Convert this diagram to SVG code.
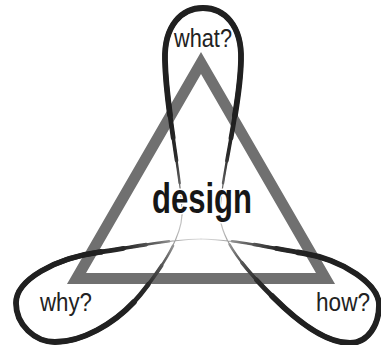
<svg xmlns="http://www.w3.org/2000/svg" width="381" height="345" viewBox="0 0 381 345">
  <defs>
    <radialGradient id="ribbon" gradientUnits="userSpaceOnUse" cx="201" cy="228" r="110">
      <stop offset="0" stop-color="#f2f2f2"/>
      <stop offset="0.18" stop-color="#c4c4c4"/>
      <stop offset="0.42" stop-color="#666666"/>
      <stop offset="0.7" stop-color="#2a2a2a"/>
      <stop offset="1" stop-color="#202020"/>
    </radialGradient>
    <path id="petal-top" pathLength="100" d="M182,215 C183,185 166,110 165,60 C164,25 182,8 203,8 C224,8 242,25 241,60 C240,110 219,185 220,215"/>
    <path id="petal-how" pathLength="100" d="M220,215 C221,242 248,272 273,297 C298,322 325,343 350,343 C368,343 379,325 379,305 C379,285 345,260 302,253 C272,248 232,239 201,239"/>
    <path id="petal-why" pathLength="100" d="M201,239 C170,239 130,248 100,252 C55,258 16,280 16,303 C16,325 35,342 55,342 C85,342 120,320 140,295 C160,270 181,240 182,215"/>
  </defs>
  <style>
    .tri { fill: none; stroke: #707070; stroke-width: 11; stroke-linejoin: miter; stroke-miterlimit: 10; }
    .rb { fill: none; stroke: url(#ribbon); stroke-linecap: round; stroke-linejoin: round; }
    .w1 { stroke-width: 1.2; }
    .w2 { stroke-width: 2.4; stroke-dasharray: 86 200; stroke-dashoffset: -7; }
    .w3 { stroke-width: 3.6; stroke-dasharray: 76 200; stroke-dashoffset: -12; }
    .w4 { stroke-width: 4.8; stroke-dasharray: 66 200; stroke-dashoffset: -17; }
    .w5 { stroke-width: 5.8; stroke-dasharray: 56 200; stroke-dashoffset: -22; }
    .lbl { font-family: "Liberation Sans", Arial, sans-serif; fill: #222222; }
    .small { font-size: 25px; }
    .big { font-size: 42px; font-weight: bold; fill: #161616; stroke: #ffffff; stroke-width: 3; paint-order: stroke; }
  </style>

  <g id="triangle">
    <polygon class="tri" points="201,63 76.5,278.5 325.5,278.5"/>
  </g>

  <g id="connectors">
    <g id="loop-what">
      <use href="#petal-top" class="rb w1"/>
      <use href="#petal-top" class="rb w2"/>
      <use href="#petal-top" class="rb w3"/>
      <use href="#petal-top" class="rb w4"/>
      <use href="#petal-top" class="rb w5"/>
    </g>
    <g id="loop-how">
      <use href="#petal-how" class="rb w1"/>
      <use href="#petal-how" class="rb w2"/>
      <use href="#petal-how" class="rb w3"/>
      <use href="#petal-how" class="rb w4"/>
      <use href="#petal-how" class="rb w5"/>
    </g>
    <g id="loop-why">
      <use href="#petal-why" class="rb w1"/>
      <use href="#petal-why" class="rb w2"/>
      <use href="#petal-why" class="rb w3"/>
      <use href="#petal-why" class="rb w4"/>
      <use href="#petal-why" class="rb w5"/>
    </g>
  </g>

  <g id="node-design">
    <text class="lbl big" x="152" y="213" textLength="100" lengthAdjust="spacingAndGlyphs">design</text>
  </g>
  <g id="node-what">
    <text class="lbl small" x="174" y="47" textLength="58" lengthAdjust="spacingAndGlyphs">what?</text>
  </g>
  <g id="node-why">
    <text class="lbl small" x="40" y="311" textLength="52" lengthAdjust="spacingAndGlyphs">why?</text>
  </g>
  <g id="node-how">
    <text class="lbl small" x="316" y="311" textLength="54" lengthAdjust="spacingAndGlyphs">how?</text>
  </g>
</svg>
